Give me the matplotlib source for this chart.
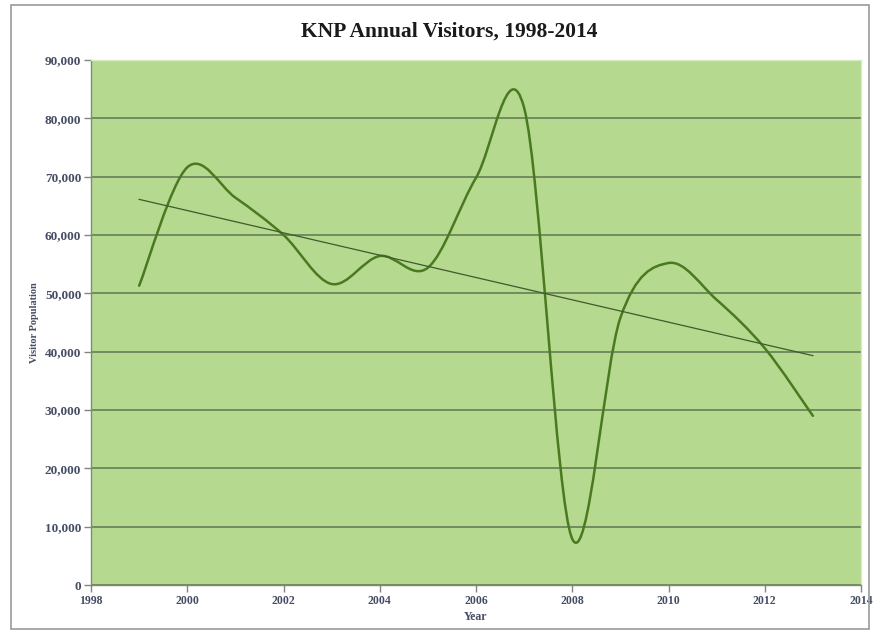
import numpy as np
import matplotlib.pyplot as plt
from matplotlib.path import Path
from matplotlib.patches import PathPatch, Rectangle
from matplotlib.ticker import FuncFormatter

years = [1999, 2000, 2001, 2002, 2003, 2004, 2005, 2006,
         2007, 2008, 2009, 2010, 2011, 2012, 2013]
visitors = [51300, 71600, 66400, 60000, 51600, 56400, 54400, 69800,
            81800, 7900, 45800, 55200, 48900, 40600, 29000]

x_ticks = [1998, 2000, 2002, 2004, 2006, 2008, 2010, 2012, 2014]
y_ticks = [0, 10000, 20000, 30000, 40000, 50000, 60000, 70000, 80000, 90000]

TITLE = "KNP Annual Visitors, 1998-2014"
BG = "#b5d98f"
GRID = "#5f7552"
LINE = "#4a7a20"
TREND = "#3f5a2c"
LABEL = "#454d63"
SERIF = ["Liberation Serif", "DejaVu Serif"]


def smooth_path(xs, ys):
    # Catmull-Rom style cubic Bezier through every point (spreadsheet "smoothed line")
    pts = np.column_stack([xs, ys]).astype(float)
    padded = np.vstack([pts[0], pts, pts[-1]])
    verts = [tuple(pts[0])]
    codes = [Path.MOVETO]
    for i in range(len(pts) - 1):
        p0, p1, p2, p3 = padded[i], padded[i + 1], padded[i + 2], padded[i + 3]
        c1 = p1 + (p2 - p0) / 6.0
        c2 = p2 - (p3 - p1) / 6.0
        verts += [tuple(c1), tuple(c2), tuple(p2)]
        codes += [Path.CURVE4] * 3
    return Path(verts, codes)


W, H = 874, 637
fig = plt.figure(figsize=(W / 100, H / 100), dpi=100)
fig.patch.set_facecolor("white")

# outer chart frame
fig.patches.append(Rectangle((11 / W, (H - 629) / H), 858 / W, 624 / H,
                             transform=fig.transFigure, fill=False,
                             edgecolor="#9a9a9a", linewidth=1.2))

ax = fig.add_axes([91 / W, (H - 585) / H, (861 - 91) / W, (585 - 60) / H])
ax.set_facecolor(BG)

ax.set_xlim(1998, 2014)
ax.set_ylim(0, 90000)
ax.set_xticks(x_ticks)
ax.set_yticks(y_ticks)
ax.yaxis.set_major_formatter(FuncFormatter(lambda v, p: f"{int(v):,}"))

ax.grid(axis="y", color=GRID, linewidth=1.1)
ax.set_axisbelow(True)

for side in ["top", "right"]:
    ax.spines[side].set_color("#d8ecc4")
    ax.spines[side].set_linewidth(1.0)
for side in ["left", "bottom"]:
    ax.spines[side].set_color("#7d8a78")
    ax.spines[side].set_linewidth(1.0)

ax.tick_params(axis="both", length=5, width=1, color="#7d8a78", pad=2)
for lab in ax.get_xticklabels():
    lab.set_fontfamily(SERIF)
    lab.set_fontweight("bold")
    lab.set_fontsize(8.5)
    lab.set_color(LABEL)
for lab in ax.get_yticklabels():
    lab.set_fontfamily(SERIF)
    lab.set_fontweight("bold")
    lab.set_fontsize(9.5)
    lab.set_color(LABEL)

# data series as smoothed curve
ax.add_patch(PathPatch(smooth_path(years, visitors), facecolor="none",
                       edgecolor=LINE, linewidth=1.8, capstyle="round",
                       joinstyle="round", zorder=3))

# linear trend line
slope, intercept = np.polyfit(years, visitors, 1)
tx = np.array([years[0], years[-1]])
ax.plot(tx, slope * tx + intercept, color=TREND, linewidth=0.9, zorder=4)

fig.text(449 / W, 1 - 32 / H, TITLE, ha="center", va="center",
         fontfamily=SERIF, fontweight="bold", fontsize=15.5, color="#1a1a1a")
ax.set_xlabel("Year", fontfamily=SERIF, fontweight="bold", fontsize=8.5,
              color=LABEL, labelpad=3)
ax.set_ylabel("Visitor Population", fontfamily=SERIF, fontweight="bold",
              fontsize=7.5, color=LABEL, labelpad=4)

fig.savefig("out.png", dpi=100)
